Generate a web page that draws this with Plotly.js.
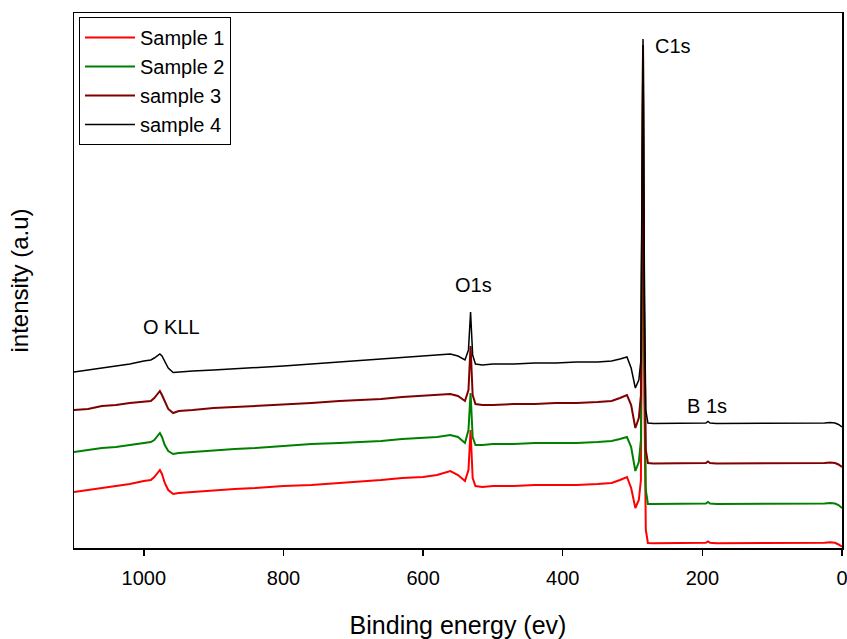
<!DOCTYPE html>
<html>
<head>
<meta charset="utf-8">
<script src="https://cdn.plot.ly/plotly-3.0.1.min.js"></script>
<style>html,body{margin:0;padding:0;background:#fff;}#chart{width:847px;height:639px;}</style>
</head>
<body>
<div id="chart"></div>
<script>
// Binding energy (eV), shared by all four spectra
var energy = [1100,1080,1060,1040,1020,1000,990,985,980,977,974,970,965,958,950,930,900,870,840,800,760,720,690,660,630,600,580,561,550,540,535,532,529,525,515,500,470,440,410,380,350,330,318,308,302,296,291,288,285,283,281,278,270,250,220,200,195,192,189,180,150,120,90,60,40,25,17,10,5,0];

// intensity (a.u.), offset stacked as in the figure
var sample1 = [56,58,60,62,64,67,68,71,76,78,74,65,58,54,55,56,58,59,60,62,63,65,66,68,70,71,73,77,73,67,78,118,70,62,61,62,62,63,63,63,64,65,68,71,60,40,48,68,493,148,18,5,4.7,4.7,4.7,4.7,5.2,6.5,5.2,4.7,4.7,4.7,4.7,4.7,4.7,5.2,5.7,5.2,3.5,1.3];
var sample2 = [96,98,100,101,103,105,106,108,113,115,111,103,97,94,95,96,98,99,100,102,104,105,106,107,109,110,111,113,111,105,118,155,111,103,103,104,104,105,105,105,106,107,109,111,101,77,86,108,498,188,58,44,44,44,44,44,44.5,46,44.5,44,44,44,44,44,44,44.5,45,44.5,43,40];
var sample3 = [138,139,142,143,145,146,147,150,155,157,153,146,139,135,137,138,140,141,142,143,145,147,148,149,151,152,153,154,152,147,158,202,153,144,143,143,144,144,145,145,146,147,150,153,143,120,130,153,503,218,98,85,84.5,84.5,84.5,84.5,85,86.5,85,84.5,84.5,84.5,84.5,84.5,84.5,85,85.5,85,83.5,81];
var sample4 = [176,178,180,182,184,187,188,190,193,194,192,186,180,175.5,176,177,178,179,180,182,184,186,187.5,189,191,192,193,194,192,188,198,236,193,184,183,184,184,185,185,186,186,187,189,191,180,160,168,188,509,248,138,125,124.5,124.5,124.5,124.5,125,126.5,125,124.5,124.5,124.5,124.5,124.5,124.5,125,125.5,125,123.5,121];

var seriesNames = ["Sample 1","Sample 2","sample 3","sample 4"];
var seriesData = [sample1, sample2, sample3, sample4];
var seriesColors = ["#ff0000","#008000","#800000","#000000"];
var seriesWidths = [2,2,2,1.5];

// peak labels
var peakLabels = ["O KLL","O1s","C1s","B 1s"];
var peakX = [961,528,270.5,193];
var peakY = [221,263.5,502,142];
var peakAnchor = ["center","center","left","center"];

var FONT = "Liberation Sans, Arial, Helvetica, sans-serif";

var traces = seriesData.map(function(ys, i){
  return {
    x: energy, y: ys, type: "scatter", mode: "lines", name: seriesNames[i],
    line: {color: seriesColors[i], width: seriesWidths[i]}
  };
});

var annotations = peakLabels.map(function(t, i){
  return {x: peakX[i], y: peakY[i], xref: "x", yref: "y", text: t, showarrow: false,
          xanchor: peakAnchor[i], yanchor: "middle", font: {size: 20, color: "#000", family: FONT}};
});

var layout = {
  width: 847, height: 639,
  margin: {l: 74, r: 5, t: 13, b: 91},
  paper_bgcolor: "#fff", plot_bgcolor: "#fff",
  font: {family: FONT, color: "#000", size: 20},
  showlegend: true,
  legend: {x: 0.0065, y: 0.9925, xanchor: "left", yanchor: "top",
           bgcolor: "#fff", bordercolor: "#000", borderwidth: 1,
           font: {size: 20, family: FONT, color: "#000"}, tracegroupgap: 0, itemwidth: 50},
  xaxis: {
    range: [1100, 0], tickmode: "linear", tick0: 0, dtick: 200,
    ticks: "outside", ticklen: 6, tickwidth: 1.5, tickcolor: "#000",
    ticklabeloverflow: "allow", ticklabelstandoff: 5,
    showline: true, linecolor: "#000", linewidth: 1.5, mirror: true,
    showgrid: false, zeroline: false,
    tickfont: {size: 20, family: FONT, color: "#000"},
    title: {text: "Binding energy (ev)", font: {size: 25, family: FONT, color: "#000"}, standoff: 29}
  },
  yaxis: {
    range: [0, 535], showticklabels: false, ticks: "",
    showline: true, linecolor: "#000", linewidth: 1.5, mirror: true,
    showgrid: false, zeroline: false,
    title: {text: "intensity (a.u)", font: {size: 24, family: FONT, color: "#000"}, standoff: 37}
  },
  annotations: annotations
};

Plotly.newPlot("chart", traces, layout, {displayModeBar: false, staticPlot: true});
</script>
</body>
</html>
